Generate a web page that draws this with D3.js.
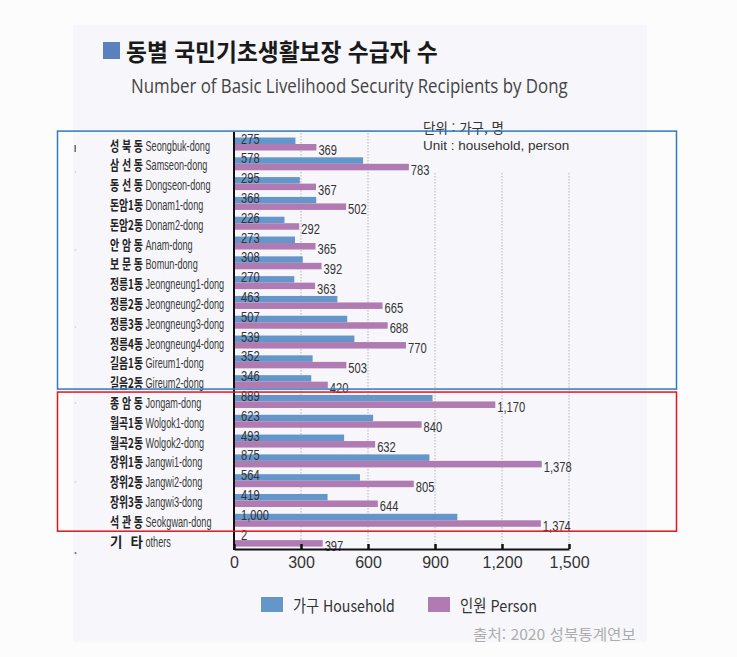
<!DOCTYPE html>
<html lang="ko">
<head>
<meta charset="utf-8">
<script src="https://cdn.jsdelivr.net/npm/d3@7/dist/d3.min.js"></script>
<style>
  html, body { margin: 0; padding: 0; background: #fcfcfc; }
  svg { display: block; }
</style>
</head>
<body>
<svg id="chart" width="737" height="657"></svg>
<script>
// 동별 국민기초생활보장 수급자 수 (2020)
const dongKo = ['성 북 동','삼 선 동','동 선 동','돈암1동','돈암2동','안 암 동','보 문 동',
  '정릉1동','정릉2동','정릉3동','정릉4동','길음1동','길음2동',
  '종 암 동','월곡1동','월곡2동','장위1동','장위2동','장위3동','석 관 동','기    타'];
const dongEn = ['Seongbuk-dong','Samseon-dong','Dongseon-dong','Donam1-dong','Donam2-dong','Anam-dong','Bomun-dong',
  'Jeongneung1-dong','Jeongneung2-dong','Jeongneung3-dong','Jeongneung4-dong','Gireum1-dong','Gireum2-dong',
  'Jongam-dong','Wolgok1-dong','Wolgok2-dong','Jangwi1-dong','Jangwi2-dong','Jangwi3-dong','Seokgwan-dong','others'];
const households = [275,578,295,368,226,273,308,270,463,507,539,352,346,889,623,493,875,564,419,1000,2];
const persons    = [369,783,367,502,292,365,392,363,665,688,770,503,420,1170,840,632,1378,805,644,1374,397];
const xTicks = [0,300,600,900,1200,1500];
// first and last row of each highlighted group
const groupA = [0, 12];
const groupB = [13, 19];

const C_HOUSE = '#6596c9';
const C_PERSON = '#b07bb3';
const KO = "'Noto Sans CJK KR','Noto Sans',sans-serif";
const LAT = "'Liberation Sans',Arial,sans-serif";

const svg = d3.select('#chart');

// draw text horizontally condensed by factor f (placed via transform)
function squeeze(sel, f) {
  sel.each(function () {
    const t = d3.select(this);
    const tx = +t.attr('x'), ty = +t.attr('y');
    t.attr('x', 0).attr('y', 0).attr('transform', `translate(${tx},${ty}) scale(${f},1)`);
  });
  return sel;
}
// draw text condensed to a given width
function fitW(sel, w) {
  sel.each(function () {
    const n = this.getComputedTextLength();
    squeeze(d3.select(this), w / n);
  });
  return sel;
}

// background panel
svg.append('rect').attr('x', 73).attr('y', 25).attr('width', 574).attr('height', 617).attr('fill', '#f7f7fb');

// title
svg.append('rect').attr('x', 103).attr('y', 42).attr('width', 17).attr('height', 17).attr('fill', '#5b80bf');
fitW(svg.append('text').attr('x', 126).attr('y', 61)
  .attr('font-family', KO).attr('font-weight', 700).attr('font-size', 24).attr('fill', '#1a1a1a')
  .text('동별 국민기초생활보장 수급자 수'), 312);
fitW(svg.append('text').attr('x', 131).attr('y', 93)
  .attr('font-family', "'Open Sans',sans-serif").attr('font-size', 19.5).attr('fill', '#444')
  .text('Number of Basic Livelihood Security Recipients by Dong'), 437);

// scales
const x = d3.scaleLinear().domain([0, 1500]).range([234, 569]);
const y = d3.scaleBand().domain(d3.range(dongKo.length)).range([134.1, 550]);
const step = y.step();
const cy = i => y(i) + step / 2;
const axisY = 549;

// unit note
const unitX = 423;
svg.append('text').attr('x', unitX).attr('y', 132.5)
  .attr('font-family', KO).attr('font-size', 13.5).attr('fill', '#333').text('단위 : 가구, 명');
svg.append('text').attr('x', unitX).attr('y', 150)
  .attr('font-family', LAT).attr('font-size', 13.5).attr('fill', '#333').text('Unit : household, person');

// dotted grid
svg.append('g').selectAll('line').data(xTicks.slice(1)).join('line')
  .attr('x1', d => x(d)).attr('x2', d => x(d))
  .attr('y1', d => x(d) > unitX ? 173 : 133).attr('y2', axisY)
  .attr('stroke', '#b5b5b5').attr('stroke-width', 1).attr('stroke-dasharray', '1.5,1.5');

// bars
const rows = svg.append('g').selectAll('g').data(d3.range(dongKo.length)).join('g');
rows.append('rect').attr('x', x(0)).attr('y', i => cy(i) - 6.5)
  .attr('width', i => x(households[i]) - x(0)).attr('height', 6.5).attr('fill', C_HOUSE);
rows.append('rect').attr('x', x(0)).attr('y', i => cy(i))
  .attr('width', i => x(persons[i]) - x(0)).attr('height', 6.5).attr('fill', C_PERSON);

// value labels
const fmt = d3.format(',');
squeeze(rows.append('text').attr('x', x(0) + 7).attr('y', i => cy(i) - 0.5)
  .attr('font-family', LAT).attr('font-size', 14.5).attr('fill', '#333')
  .text(i => fmt(households[i])), 0.77);
squeeze(rows.append('text').attr('x', i => x(persons[i]) + 2).attr('y', i => cy(i) + 11)
  .attr('font-family', LAT).attr('font-size', 14.5).attr('fill', '#333')
  .text(i => fmt(persons[i])), 0.77);

// row labels: Korean name spread over a fixed width, English name condensed
rows.append('text').attr('x', 110).attr('y', i => cy(i) + 6.5)
  .attr('font-family', KO).attr('font-weight', 700).attr('font-size', 13.5).attr('fill', '#222')
  .text(i => dongKo[i])
  .each(function () {
    const n = this.getComputedTextLength();
    if (n > 33) squeeze(d3.select(this), 33 / n);
    else d3.select(this).attr('textLength', 33).attr('lengthAdjust', 'spacing');
  });
squeeze(rows.append('text').attr('x', 145.5).attr('y', i => cy(i) + 6.5)
  .attr('font-family', LAT).attr('font-size', 14.5).attr('fill', '#3a3a3a')
  .text(i => dongEn[i]), 0.63);

// axes
svg.append('line').attr('x1', x(0)).attr('x2', x(0)).attr('y1', 132).attr('y2', axisY + 1)
  .attr('stroke', '#111').attr('stroke-width', 2);
const xAxis = svg.append('g').attr('transform', `translate(0,${axisY})`)
  .call(d3.axisBottom(x).tickValues(xTicks).tickFormat(fmt).tickSizeInner(-5).tickSizeOuter(0).tickPadding(8));
xAxis.select('.domain').attr('stroke', '#111').attr('stroke-width', 2);
xAxis.selectAll('.tick line').attr('stroke', '#111').attr('stroke-width', 2.5);
xAxis.selectAll('.tick text').attr('font-family', LAT).attr('font-size', 16).attr('fill', '#333');

// group frames
const frame = (top, bottom, color) => svg.append('rect')
  .attr('x', 57.5).attr('width', 619).attr('y', top).attr('height', bottom - top)
  .attr('fill', 'none').attr('stroke', color).attr('stroke-width', 1.5);
frame(y(groupA[0]) - 3, y(groupA[1]) + step - 2.5, '#2d7bbd');
frame(y(groupB[0]) + 0.5, y(groupB[1]) + step + 1, '#e3141b');

// stray margin marks
svg.append('rect').attr('x', 74.5).attr('y', 145).attr('width', 1.3).attr('height', 7).attr('fill', '#555');
[172, 250, 327, 403, 482].forEach(v =>
  svg.append('circle').attr('cx', 75.5).attr('cy', v).attr('r', 0.8).attr('fill', '#c8c8c8'));
svg.append('circle').attr('cx', 75.5).attr('cy', 553).attr('r', 1).attr('fill', '#666');

// legend
const legend = [['가구 Household', C_HOUSE, 261], ['인원 Person', C_PERSON, 428]];
legend.forEach(([label, color, lx], k) => {
  svg.append('rect').attr('x', lx).attr('y', 597).attr('width', 22).attr('height', 15).attr('fill', color);
  fitW(svg.append('text').attr('x', lx + 32).attr('y', 612)
    .attr('font-family', KO).attr('font-size', 16.5).attr('fill', '#333').text(label), k === 0 ? 102 : 77);
});

// source
fitW(svg.append('text').attr('x', 473).attr('y', 640)
  .attr('font-family', KO).attr('font-size', 15).attr('fill', '#adadad')
  .text('출처: 2020 성북통계연보'), 163);
</script>
</body>
</html>
